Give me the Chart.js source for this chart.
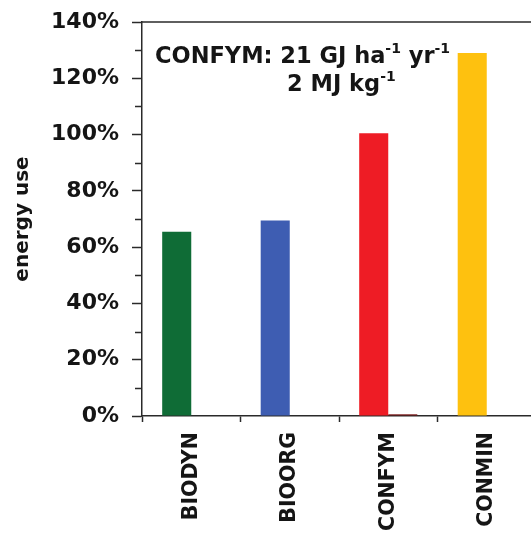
<!DOCTYPE html>
<html><head><meta charset="utf-8">
<script src="https://cdn.jsdelivr.net/npm/chart.js@4"></script>
<style>
html,body{margin:0;padding:0;overflow:hidden;background:#fff;width:531px;height:534px}
canvas{display:block}
</style></head>
<body>
<canvas id="c" width="540" height="534" style="width:540px;height:534px"></canvas>
<script>
// ---- data ----
const categories = ['BIODYN', 'BIOORG', 'CONFYM', 'CONMIN'];
const energyUse = [65.5, 69.5, 100.5, 129];
const secondSeries = [0, 0, 0.6, 0];
const yTickValues = [0, 20, 40, 60, 80, 100, 120, 140];
const yTickLabels = ['0%', '20%', '40%', '60%', '80%', '100%', '120%', '140%'];
const yMinorTicks = [10, 30, 50, 70, 90, 110, 130];
const yAxisTitle = 'energy use';
const noteLine1 = [['CONFYM: 21 GJ ha', false], ['-1', true], [' yr', false], ['-1', true]];
const noteLine2 = [['2 MJ kg', false], ['-1', true]];

const barColors = ['#0f6c36', '#3e5db2', '#ee1c25', '#fec10f'];
const secondColors = ['#0a4a24', '#2a3f7a', '#7a1515', '#b08500'];
const FONT = "'DejaVu Sans', Verdana, sans-serif";
const INK = '#151515';
const AXIS = '#2a2a2a';

const frame = {
  id: 'frame',
  afterDraw(chart) {
    const {ctx, chartArea: a, scales} = chart;
    ctx.save();
    ctx.strokeStyle = AXIS;
    ctx.lineWidth = 1.5;
    // top frame line
    ctx.beginPath();
    ctx.moveTo(a.left, a.top);
    ctx.lineTo(chart.width, a.top);
    ctx.stroke();
    // minor ticks (shorter)
    ctx.beginPath();
    for (const v of yMinorTicks) {
      const py = Math.round(scales.y.getPixelForValue(v)) + 0.5;
      ctx.moveTo(a.left - 7, py);
      ctx.lineTo(a.left, py);
    }
    ctx.stroke();

    function drawLine(parts, x, y) {
      let cx = x;
      for (const [t, sup] of parts) {
        ctx.font = sup ? `bold 14px ${FONT}` : `bold 22.5px ${FONT}`;
        ctx.fillText(t, cx, sup ? y - 10 : y);
        cx += ctx.measureText(t).width;
      }
    }
    ctx.fillStyle = INK;
    ctx.textBaseline = 'alphabetic';
    ctx.textAlign = 'left';
    drawLine(noteLine1, a.left + 13, a.top + 41);
    drawLine(noteLine2, a.left + 145, a.top + 69);
    ctx.restore();
  }
};

new Chart(document.getElementById('c'), {
  type: 'bar',
  data: {
    labels: categories,
    datasets: [
      {data: energyUse, backgroundColor: barColors, borderWidth: 0},
      {data: secondSeries, backgroundColor: secondColors, borderWidth: 0}
    ]
  },
  options: {
    responsive: false,
    animation: false,
    devicePixelRatio: 1,
    categoryPercentage: 0.59,
    barPercentage: 1.0,
    layout: {padding: {left: 0, right: 4, top: 22, bottom: 0}},
    plugins: {legend: {display: false}, tooltip: {enabled: false}},
    scales: {
      x: {
        offset: true,
        afterFit(s) { s.height = 118; },
        ticks: {
          minRotation: 90, maxRotation: 90, autoSkip: false,
          font: {family: FONT, size: 20.5, weight: 'bold'}, color: INK, padding: 10
        },
        grid: {drawOnChartArea: false, offset: true, tickLength: 6, tickColor: AXIS, tickWidth: 1.5},
        border: {color: AXIS, width: 1.5}
      },
      y: {
        min: 0, max: 140,
        afterFit(s) { s.width = 142; s.paddingTop = 0; s.paddingBottom = 0; },
        ticks: {
          stepSize: 10, autoSkip: false,
          callback: v => { const i = yTickValues.indexOf(v); return i >= 0 ? yTickLabels[i] : ''; },
          font: {family: FONT, size: 22, weight: 'bold'}, color: INK, padding: 13
        },
        grid: {
          drawOnChartArea: false, tickLength: 10, tickWidth: 1.5,
          tickColor: c => (c.tick && yTickValues.indexOf(c.tick.value) >= 0) ? AXIS : 'rgba(0,0,0,0)'
        },
        border: {color: AXIS, width: 1.5},
        title: {display: true, text: yAxisTitle, font: {family: FONT, size: 20, weight: 'bold'}, color: INK, padding: {top: 11, bottom: 0}}
      }
    }
  },
  plugins: [frame]
});
</script>
</body></html>
